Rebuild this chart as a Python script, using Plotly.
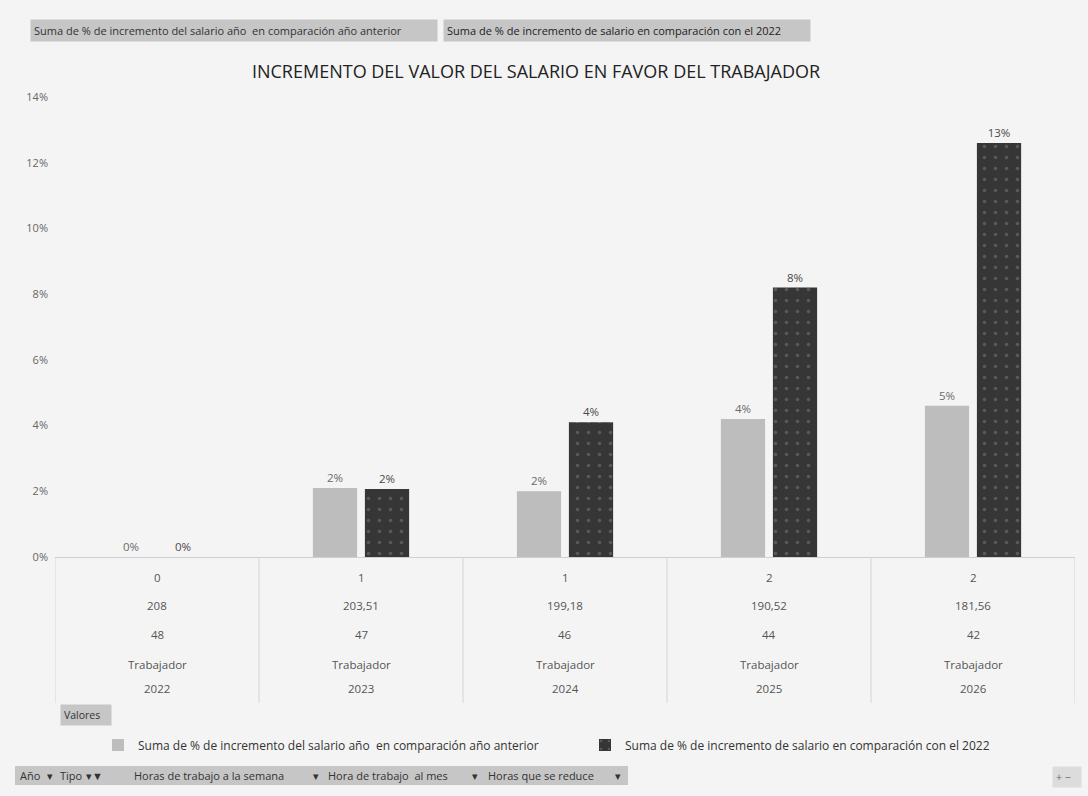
import plotly.graph_objects as go

# ---- data ----
years = ["2022", "2023", "2024", "2025", "2026"]
tipo = ["Trabajador", "Trabajador", "Trabajador", "Trabajador", "Trabajador"]
horas_semana = ["48", "47", "46", "44", "42"]
horas_mes = ["208", "203,51", "199,18", "190,52", "181,56"]
horas_reduce = ["0", "1", "1", "2", "2"]
inc_anio_anterior = [0.0, 0.021, 0.020, 0.042, 0.046]
inc_vs_2022 = [0.0, 0.0207, 0.041, 0.082, 0.126]

name_a = "Suma de % de incremento del salario año  en comparación año anterior"
name_b = "Suma de % de incremento de salario en comparación con el 2022"
toolbar = [("Año", 18), ("▾", 45), ("Tipo", 58), ("▾▼", 84),
           ("Horas de trabajo a la semana", 132), ("▾", 311),
           ("Hora de trabajo  al mes", 326), ("▾", 470),
           ("Horas que se reduce", 486), ("▾", 613)]

W, H = 1088, 796
L, R, T, B = 55, 13, 97, 239
PW, PH = W - L - R, H - T - B
FONT = "Open Sans"


def px(x):
    return (x - L) / PW


def py(y):
    return (H - B - y) / PH


fig = go.Figure()
fig.add_trace(go.Bar(
    x=years, y=inc_anio_anterior, name=name_a, legend="legend",
    marker=dict(color="#bdbdbd", line=dict(width=0)),
    texttemplate="%{y:.0%}", textposition="outside",
    textfont=dict(size=11.5, color="#6a6a6a", family=FONT),
    cliponaxis=False,
))
fig.add_trace(go.Bar(
    x=years, y=inc_vs_2022, name=name_b, legend="legend2",
    marker=dict(color="#363636", line=dict(width=0),
                pattern=dict(shape=".", fgcolor="#7c7c7c", size=11, solidity=0.08)),
    texttemplate="%{y:.0%}", textposition="outside",
    textfont=dict(size=11.5, color="#4a4a4a", family=FONT),
    cliponaxis=False,
))

shapes = []
annotations = []

# category table rows
rows = [horas_reduce, horas_mes, horas_semana, tipo, years]
row_y = [577, 605, 634, 664, 688]
for vals, yy in zip(rows, row_y):
    for i, v in enumerate(vals):
        annotations.append(dict(x=i, xref="x", y=py(yy), yref="paper", text=v,
                                yanchor="middle", showarrow=False,
                                font=dict(size=11.5, color="#555", family=FONT)))
# table separators
for b in [-0.5, 0.5, 1.5, 2.5, 3.5, 4.5]:
    shapes.append(dict(type="line", xref="x", yref="paper", x0=b, x1=b,
                       y0=0, y1=py(703), line=dict(color="#d4d4d4", width=1)))


def button(x0, yc, w, text, size, color="#333", bg="#c6c6c6", pad=3):
    annotations.append(dict(x=px(x0), y=py(yc), xref="paper", yref="paper",
                            xanchor="left", yanchor="middle", width=w, align="left",
                            text=text, showarrow=False, bgcolor=bg, borderpad=pad,
                            font=dict(size=size, color=color, family=FONT)))


# top field buttons
button(30, 31, 400, "Suma de % de incremento del salario año  en comparación año anterior", 11)
button(443, 31, 360, "Suma de % de incremento de salario en comparación con el 2022", 11, color="#222")
# Valores button
button(60, 715, 44, "Valores", 10.5)
# bottom field toolbar
shapes.append(dict(type="rect", xref="paper", yref="paper", x0=px(15), x1=px(628),
                   y0=py(766), y1=py(785), fillcolor="#c6c6c6", line=dict(width=0),
                   layer="below"))
for t, xx in toolbar:
    annotations.append(dict(x=px(xx), y=py(775.5), xref="paper", yref="paper",
                            xanchor="left", yanchor="middle", text=t, showarrow=False,
                            font=dict(size=11, color="#333", family=FONT)))
button(1052, 777, 22, "+ −", 10.5, color="#666", bg="#dcdcdc")

legend_common = dict(orientation="h", xanchor="left", yanchor="middle",
                     xref="paper", yref="paper", bgcolor="rgba(0,0,0,0)", itemwidth=30,
                     font=dict(size=12, color="#333", family=FONT))

fig.update_layout(
    width=W, height=H,
    margin=dict(l=L, r=R, t=T, b=B),
    paper_bgcolor="#f4f4f4", plot_bgcolor="#f4f4f4",
    title=dict(text="INCREMENTO DEL VALOR DEL SALARIO EN FAVOR DEL TRABAJADOR",
               xref="container", x=536 / W, xanchor="center",
               yref="container", y=1 - 72 / H, yanchor="middle",
               font=dict(size=18, color="#222", family=FONT)),
    barmode="group", bargap=0.49, bargroupgap=0.15,
    showlegend=True,
    legend=dict(x=px(98), y=py(745), **legend_common),
    legend2=dict(x=px(585), y=py(745), **legend_common),
    xaxis=dict(type="category", showticklabels=False, showgrid=False, zeroline=False,
               showline=True, linecolor="#cfcfcf", linewidth=1, ticks="",
               range=[-0.5, 4.5]),
    yaxis=dict(range=[0, 0.14], dtick=0.02, tickformat=".0%", showgrid=False,
               zeroline=False, showline=False, ticks="", ticklabelstandoff=6,
               tickfont=dict(size=11, color="#666", family=FONT)),
    shapes=shapes, annotations=annotations,
    font=dict(family=FONT),
)

fig.write_html("out.html")
